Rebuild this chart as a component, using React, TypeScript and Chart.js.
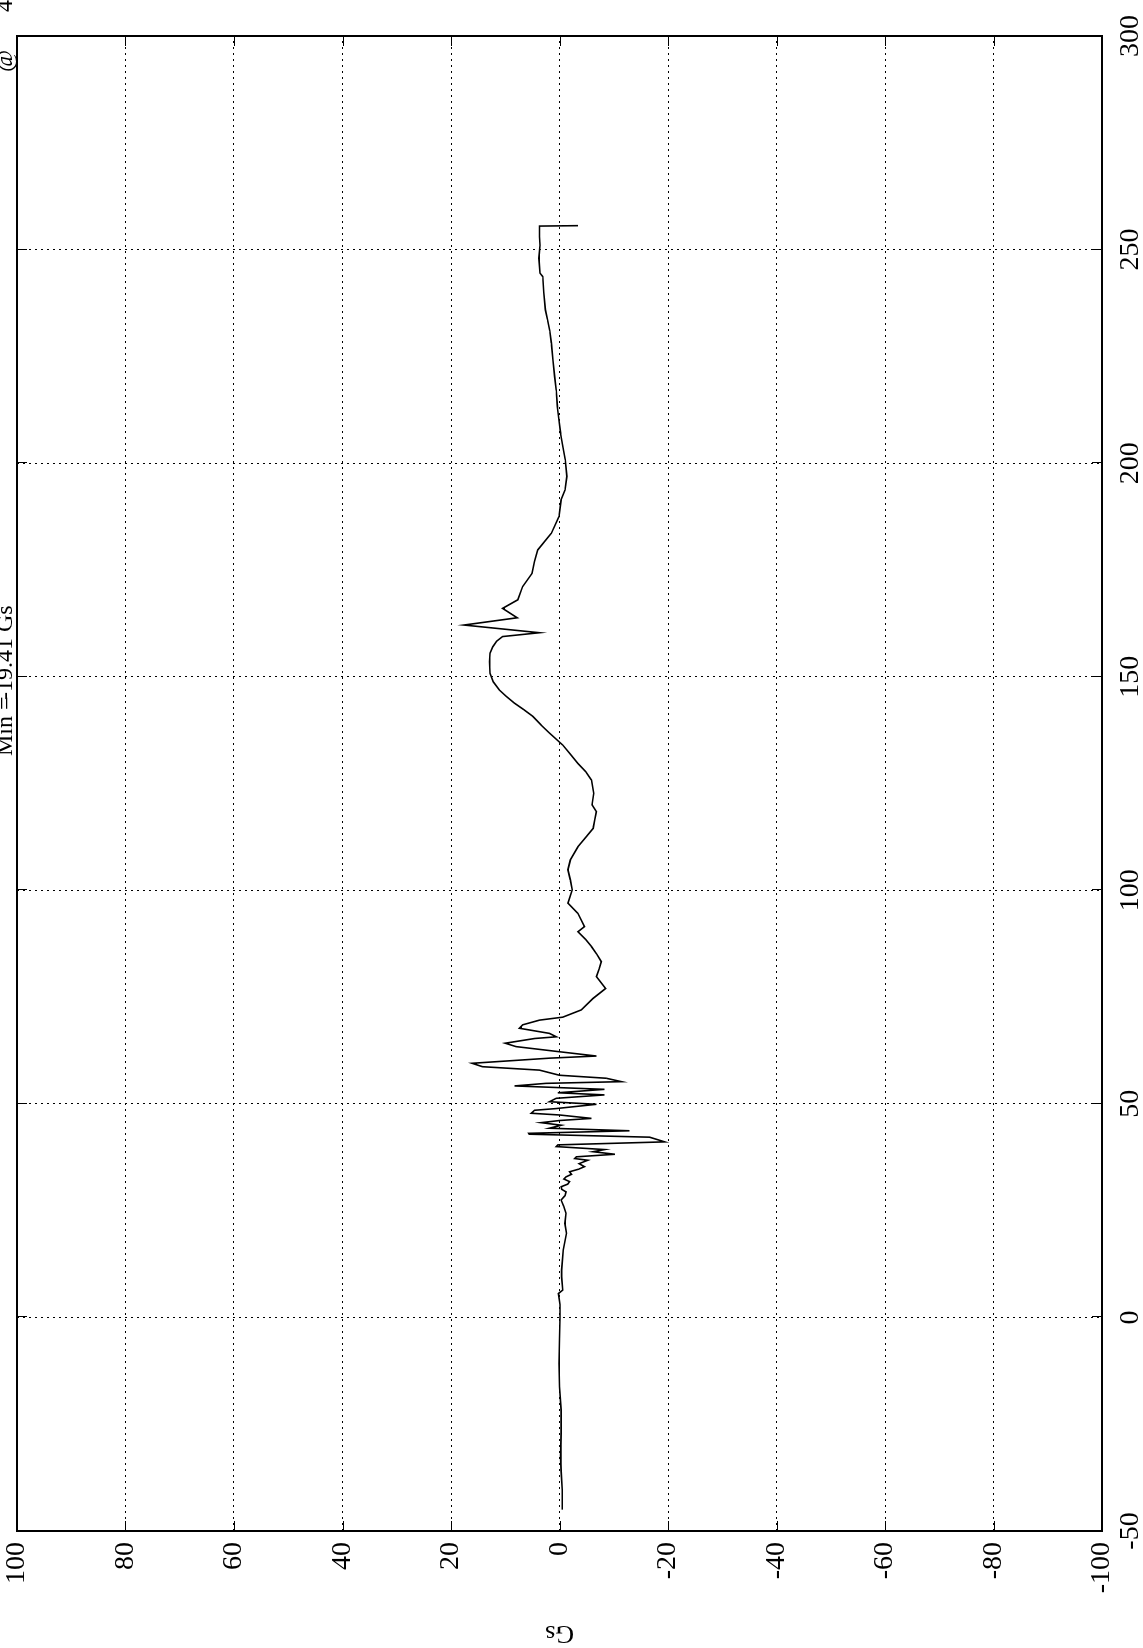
import React, { useEffect, useRef } from "react";
import { Chart, registerables } from "chart.js";

Chart.register(...registerables);

// Time (ms) along the original x axis
const timeMs = [
  -45, -40.4, -36, -32.7, -27, -21.7, -16.2, -10.8, -5, 0, 3, 5.6, 6.4, 9.5, 11.1, 15.8, 19.7, 22, 24.4, 26,
  27.5, 28.5, 29.4, 30, 30.6, 31.2, 31.8, 32.4, 32.9, 33.5, 34.1, 34.7, 35.3, 36.0, 36.8, 37.2, 37.6, 38.2, 38.8, 39.3,
  40.0, 40.4, 41.1, 42.2, 42.9, 43.1, 43.7, 44.3, 45.0, 45.6, 46.1, 46.6, 47.4, 47.8, 48.5, 48.9, 49.9, 50.5, 51.3, 52.1,
  52.6, 53.4, 54.2, 54.8, 55.2, 56.0, 56.7, 57.9, 58.7, 59.5, 60.7, 61.2, 62.2, 63.4, 64.2, 65.3, 65.7, 66.5, 67.7, 68.5,
  69.6, 70.3, 72.0, 74.7, 77.0, 79.8, 81.5, 83.3, 85.0, 86.8, 88.5, 90.3, 91.5, 94.6, 97.0, 100.1, 102.4, 104.8, 107.1, 110.2,
  112.5, 114.5, 116.5, 118.4, 120.0, 122.7, 125.8, 127.8, 129.7, 132.0, 134.0, 136.8, 138.7, 140.7, 142.3, 143.8, 145.4, 146.9, 148.8, 150.8,
  153.5, 155.5, 157.0, 158.3, 159.4, 160.3, 162.1, 163.8, 166.0, 168.0, 171.1, 174.2, 177.0, 179.7, 183.6, 187.5, 191.4, 193.7, 196.9, 200.8,
  204, 207, 210, 213.3, 217, 220.3, 224, 228.1, 231, 233.6, 235.9, 240, 243.7, 244.5, 248, 251, 253, 255.5, 255.6,
];

// Acceleration (Gs)
const gsValues = [
  -0.5, -0.5, -0.3, -0.2, -0.3, -0.3, 0, 0.1, 0, -0.1, -0.1, 0.2, -0.6, -0.4, -0.4, -0.7, -1.3, -1.0, -1.2, -0.8,
  -0.3, -1.0, -1.2, -0.4, -0.3, -1.5, -1.85, -0.8, -1.2, -2.2, -1.85, -3.5, -4.6, -3.6, -5.2, -2.8, -3.1, -10.2, -6.2, -8.3,
  0.6, 0.3, -19.4, -16.6, 5.6, 5.7, -12.9, 1.85, -0.3, 3.4, 0, -5.9, 0, 5.2, 4.6, 0.6, -6.8, 1.85, 0.6, -8.3,
  0.3, -8.3, 8.3, 2.5, -11.4, -8.6, 0, 3.7, 14.2, 16.1, 1.85, -6.8, 0, 8.0, 10.0, 4.6, 0.6, 1.85, 7.4, 6.8,
  3.7, -0.6, -4.0, -6.2, -8.5, -6.8, -7.3, -7.7, -6.9, -5.9, -4.8, -3.4, -4.6, -3.4, -1.55, -2.35, -2.0, -1.55, -2.0, -3.4,
  -4.9, -6.2, -6.5, -6.8, -6.0, -6.3, -5.9, -4.8, -3.4, -1.9, -0.6, 1.85, 3.4, 4.9, 6.6, 8.3, 9.8, 11.1, 12.2, 12.8,
  12.9, 12.8, 12.3, 11.6, 10.5, 3.7, 17.6, 7.8, 10.5, 7.7, 6.8, 5.05, 4.6, 4.0, 1.5, 0.1, -0.3, -1.0, -1.35, -1.05,
  -0.6, -0.2, 0.1, 0.4, 0.6, 0.9, 1.2, 1.5, 1.8, 2.2, 2.6, 2.9, 3.1, 3.6, 3.8, 3.6, 3.7, 3.7, -3.4,
];

const timeTicks = [-50, 0, 50, 100, 150, 200, 250, 300];
const gsTicks = [-100, -80, -60, -40, -20, 0, 20, 40, 60, 80, 100];
const yTitle = "Gs";
const titleParts = ["Min =", "-19.41 Gs", "@", "4"];

const W = 1648;
const H = 1143;
const FONT = '"Liberation Serif", "DejaVu Serif", serif';

const framePlugin = {
  id: "matlabFrame",
  afterDraw(chart: any) {
    const { ctx, chartArea: a, scales } = chart;
    const xs = scales.x;
    const ys = scales.y;
    const L = 10;
    ctx.save();
    ctx.strokeStyle = "#000";
    ctx.lineWidth = 1;
    ctx.beginPath();
    for (const t of timeTicks) {
      const px = Math.round(xs.getPixelForValue(t)) + 0.5;
      ctx.moveTo(px, a.bottom);
      ctx.lineTo(px, a.bottom - L);
      ctx.moveTo(px, a.top);
      ctx.lineTo(px, a.top + L);
    }
    for (const g of gsTicks) {
      const py = Math.round(ys.getPixelForValue(g)) + 0.5;
      ctx.moveTo(a.left, py);
      ctx.lineTo(a.left + L, py);
      ctx.moveTo(a.right, py);
      ctx.lineTo(a.right - L, py);
    }
    ctx.stroke();
    ctx.lineWidth = 2;
    ctx.strokeRect(a.left, a.top, a.right - a.left, a.bottom - a.top);
    // clipped title sliver along the page edge
    ctx.fillStyle = "#000";
    ctx.font = `24px ${FONT}`;
    ctx.textAlign = "left";
    ctx.textBaseline = "alphabetic";
    const xsTitle = [892, 948, 1576, 1636];
    titleParts.forEach((p, i) => ctx.fillText(p, xsTitle[i], 12));
    ctx.restore();
  },
};

export default function App() {
  const canvasRef = useRef<HTMLCanvasElement | null>(null);

  useEffect(() => {
    const canvas = canvasRef.current;
    if (!canvas) return;
    const points = timeMs.map((t, i) => ({ x: t, y: gsValues[i] }));
    const chart = new Chart(canvas, {
      type: "line",
      data: {
        datasets: [
          {
            data: points,
            borderColor: "#000",
            borderWidth: 1.6,
            pointRadius: 0,
            tension: 0,
            fill: false,
          },
        ],
      },
      options: {
        responsive: false,
        animation: false,
        devicePixelRatio: 1,
        layout: { padding: { top: 17, right: 36, left: 0, bottom: 0 } },
        plugins: {
          legend: { display: false },
          tooltip: { enabled: false },
          title: { display: false },
        },
        scales: {
          x: {
            type: "linear",
            min: -50,
            max: 300,
            afterBuildTicks: (s: any) => {
              s.ticks = timeTicks.map((v) => ({ value: v }));
            },
            ticks: {
              color: "#000",
              font: { family: FONT, size: 28 },
              padding: 12,
              maxRotation: 0,
              minRotation: 0,
              autoSkip: false,
            },
            grid: { color: "#000", lineWidth: 1, drawTicks: false },
            border: { display: false, dash: [2, 4] },
            afterFit: (s: any) => {
              s.height = 41;
              s.paddingLeft = 0;
              s.paddingRight = 0;
            },
          },
          y: {
            type: "linear",
            min: -100,
            max: 100,
            afterBuildTicks: (s: any) => {
              s.ticks = gsTicks.map((v) => ({ value: v }));
            },
            ticks: {
              color: "#000",
              font: { family: FONT, size: 28 },
              padding: 11,
              autoSkip: false,
            },
            grid: { color: "#000", lineWidth: 1, drawTicks: false },
            border: { display: false, dash: [2, 4] },
            title: {
              display: true,
              text: yTitle,
              color: "#000",
              font: { family: FONT, size: 26 },
              padding: 0,
            },
            afterFit: (s: any) => {
              s.width = 117;
              s.paddingTop = 0;
              s.paddingBottom = 0;
            },
          },
        },
      },
      plugins: [framePlugin],
    } as any);
    return () => chart.destroy();
  }, []);

  return (
    <div
      style={{
        position: "absolute",
        left: 0,
        top: 0,
        width: H,
        height: W,
        overflow: "hidden",
        background: "#fff",
      }}
    >
      <div
        style={{
          position: "absolute",
          left: 0,
          top: 0,
          width: W,
          height: H,
          transformOrigin: "0 0",
          transform: `translateY(${W}px) rotate(-90deg)`,
        }}
      >
        <canvas ref={canvasRef} width={W} height={H} style={{ display: "block", width: W, height: H }} />
      </div>
    </div>
  );
}
